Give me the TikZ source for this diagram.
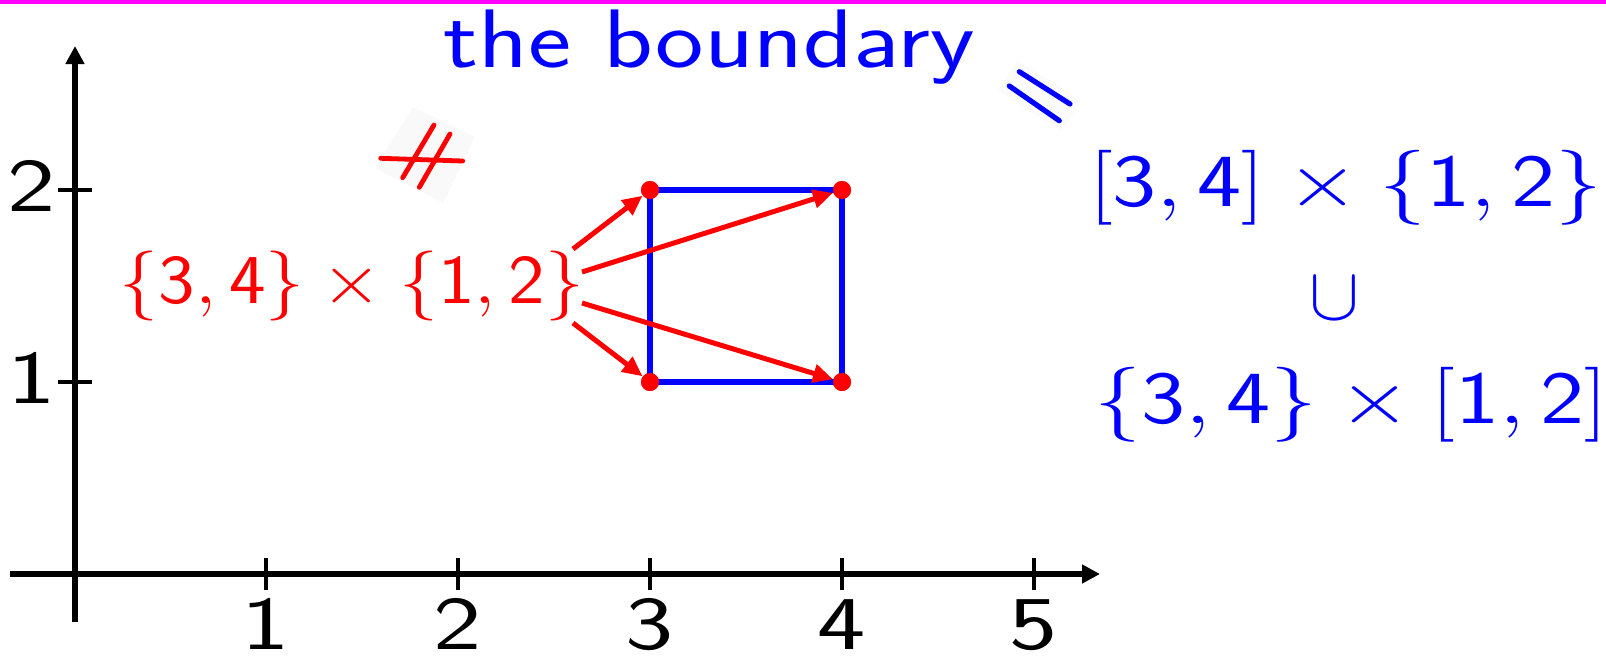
\RequirePackage{fix-cm}
\documentclass[tikz,border=0pt]{standalone}
\usetikzlibrary{arrows.meta}
\definecolor{pureblue}{RGB}{0,0,255}
\definecolor{purered}{RGB}{255,0,0}
\definecolor{puremag}{RGB}{255,0,255}
\newcommand{\sfd}[1]{\textsf{#1}}
\begin{document}
\begin{tikzpicture}[x=0.5pt,y=-0.5pt,
  axis/.style={line width=2.6pt,-{Triangle[length=9pt,width=9pt]}},
  tick/.style={line width=2.2pt},
  ticklab/.style={inner sep=0pt,font=\fontsize{38}{40}\selectfont\sffamily},
  edge/.style={draw=pureblue,line width=3pt},
  dot/.style={circle,fill=purered,inner sep=0pt,minimum size=9pt},
  redarrow/.style={draw=purered,line width=2.5pt,-{Triangle[length=10pt,width=9pt]}},
  symline/.style={line width=2.4pt,line cap=round},
  faint/.style={fill=black!2.5,draw=none},
  bluemath/.style={inner sep=0pt,text=pureblue,font=\fontsize{37.5}{42}\selectfont}]
\useasboundingbox (0,0) rectangle (1606,659);
\fill[puremag] (0,0) rectangle (1606,4);

% axes
\coordinate (xl) at (10,574);
\coordinate (xr) at (1100,574);
\coordinate (yb) at (75,622);
\coordinate (yt) at (75,46);
\draw[axis] (xl) -- (xr);
\draw[axis] (yb) -- (yt);

% x ticks
\foreach \i in {1,...,5}{
  \coordinate (xt\i a) at ({74+192*\i},558);
  \coordinate (xt\i b) at ({74+192*\i},590);
  \draw[tick] (xt\i a) -- (xt\i b);
  \node[ticklab,anchor=base] (xlab\i) at ({74+192*\i},649) {\scalebox{1.35}[1]{\i}};
}
% y ticks
\foreach \j in {1,2}{
  \coordinate (yt\j a) at (58,{574-192*\j});
  \coordinate (yt\j b) at (92,{574-192*\j});
  \draw[tick] (yt\j a) -- (yt\j b);
  \node[ticklab,anchor=base east] (ylab\j) at (56,{574-192*\j+21}) {\scalebox{1.35}[1]{\j}};
}

% square
\node[dot] (p31) at (650,382) {};
\node[dot] (p41) at (842,382) {};
\node[dot] (p32) at (650,190) {};
\node[dot] (p42) at (842,190) {};
\draw[edge] (p31.center) -- (p41.center) -- (p42.center) -- (p32.center) -- cycle;
\node[dot] at (650,382) {};
\node[dot] at (842,382) {};
\node[dot] at (650,190) {};
\node[dot] at (842,190) {};

% red label
\node[anchor=base,inner sep=0pt,text=purered,font=\fontsize{35}{40}\selectfont] (redlab) at (352,303)
  {\scalebox{1.11}[1]{$\{\sfd{3},\sfd{4}\}\times\{\sfd{1},\sfd{2}\}$}};
\coordinate (r1) at (573,249);
\coordinate (r2) at (582,272);
\coordinate (r3) at (582,303);
\coordinate (r4) at (573,323);
\draw[redarrow] (r1) -- (p32);
\draw[redarrow] (r2) -- (p42);
\draw[redarrow] (r3) -- (p41);
\draw[redarrow] (r4) -- (p31);

% red not-equal sign
\fill[faint] (413,107) -- (475,137) -- (443,203) -- (375,168) -- cycle;
\coordinate (ne1a) at (380.7,158.3); \coordinate (ne1b) at (462.7,161);
\coordinate (ne2a) at (434,125);     \coordinate (ne2b) at (402.7,177.7);
\coordinate (ne3a) at (450,134);     \coordinate (ne3b) at (419.3,187.3);
\draw[symline,purered] (ne1a) -- (ne1b);
\draw[symline,purered] (ne2a) -- (ne2b);
\draw[symline,purered] (ne3a) -- (ne3b);

% title
\node[anchor=base,inner sep=0pt,text=pureblue,font=\fontsize{41.5}{44}\selectfont\sffamily] (title) at (709,67)
  {\scalebox{1.24}[1]{the boundary}};

% blue equals sign
\fill[black!1.5] (1061.8,131.2) -- (1081.2,100.8) -- (1017.2,60) -- (997.8,90.4) -- cycle;
\coordinate (eq1a) at (1019.3,71.7); \coordinate (eq1b) at (1070,104);
\coordinate (eq2a) at (1009.3,86);   \coordinate (eq2b) at (1059.3,120.7);
\draw[symline,pureblue,line width=2.6pt] (eq1a) -- (eq1b);
\draw[symline,pureblue,line width=2.6pt] (eq2a) -- (eq2b);

% blue formula
\node[bluemath,anchor=base] (bl1) at (1346,206)
  {\scalebox{1.25}[1]{$[\sfd{3},\sfd{4}]\times\{\sfd{1},\sfd{2}\}$}};
\node[bluemath] (cup) at (1334,299) {$\cup$};
\node[bluemath,anchor=base] (bl2) at (1351,423)
  {\scalebox{1.25}[1]{$\{\sfd{3},\sfd{4}\}\times[\sfd{1},\sfd{2}]$}};
\end{tikzpicture}
\end{document}
